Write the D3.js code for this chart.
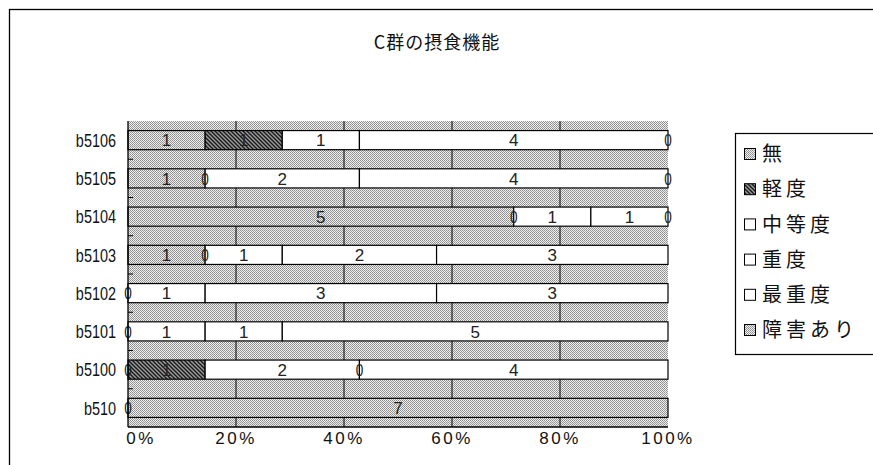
<!DOCTYPE html>
<html>
<head>
<meta charset="utf-8">
<script src="https://cdn.jsdelivr.net/npm/d3@7/dist/d3.min.js"></script>
<style>
  html, body { margin: 0; padding: 0; background: #fff; }
  svg { display: block; }
</style>
</head>
<body>
<svg id="chart" width="873" height="465"></svg>
<script>
// Categories (top to bottom) and one value array per severity series
const categories = ["b5106", "b5105", "b5104", "b5103", "b5102", "b5101", "b5100", "b510"];
const seriesNames = ["無", "軽度", "中等度", "重度", "最重度", "障害あり"];
const mu       = [1, 1, 5, 1, 0, 0, 0, 0];
const keido    = [1, 0, 0, 0, 0, 0, 1, null];
const chutoudo = [1, 2, 1, 1, 1, 1, 2, null];
const judo     = [4, 4, 1, 2, 3, 1, 0, null];
const saijudo  = [0, 0, 0, 3, 3, 5, 4, null];
const shougai  = [null, null, null, null, null, null, null, 7];
const tickLabels = ["0%", "20%", "40%", "60%", "80%", "100%"];
const title = "C群の摂食機能";

const seriesValues = [mu, keido, chutoudo, judo, saijudo, shougai];
const fills = ["url(#dots)", "url(#hatch)", "#fff", "#fff", "#fff", "url(#dots)"];

const rows = categories.map((c, i) => {
  const r = { cat: c };
  seriesNames.forEach((s, k) => { r[s] = seriesValues[k][i]; });
  return r;
});

const svg = d3.select("#chart");
const W = 873, H = 465;
const plot = { left: 128, right: 668, top: 121, bottom: 427 };

// Fill patterns: dithered light gray and dark diagonal hatch
const defs = svg.append("defs");
const dots = defs.append("pattern").attr("id", "dots")
  .attr("patternUnits", "userSpaceOnUse").attr("width", 2).attr("height", 2);
dots.append("rect").attr("width", 2).attr("height", 2).attr("fill", "#efefef");
dots.append("rect").attr("x", 0).attr("y", 0).attr("width", 1).attr("height", 1).attr("fill", "#8c8c8c");
dots.append("rect").attr("x", 1).attr("y", 1).attr("width", 1).attr("height", 1).attr("fill", "#9c9c9c");

const hatch = defs.append("pattern").attr("id", "hatch")
  .attr("patternUnits", "userSpaceOnUse").attr("width", 4).attr("height", 4);
hatch.append("rect").attr("width", 4).attr("height", 4).attr("fill", "#9a9a9a");
hatch.append("path").attr("d", "M-1,-1 L5,5 M3,-1 L5,1 M-1,3 L1,5")
  .attr("stroke", "#1a1a1a").attr("stroke-width", 1.4);

// Outer chart border
svg.append("rect").attr("x", 9.5).attr("y", 9.5).attr("width", W).attr("height", H)
  .attr("fill", "none").attr("stroke", "#000").attr("stroke-width", 1.3);

// Title
svg.append("text").attr("x", 437).attr("y", 49).attr("text-anchor", "middle")
  .attr("font-family", "'Noto Sans CJK JP', sans-serif").attr("font-size", 18)
  .attr("letter-spacing", 1)
  .attr("fill", "#111").text(title);

const x = d3.scaleLinear().domain([0, 1]).range([plot.left, plot.right]);
const y = d3.scaleBand().domain(categories).range([plot.top, plot.bottom]).paddingInner(0.5).paddingOuter(0.25);
const yOuter = d3.scaleBand().domain(categories).range([plot.top, plot.bottom]);

// Plot area background
svg.append("rect").attr("x", plot.left).attr("y", plot.top)
  .attr("width", plot.right - plot.left).attr("height", plot.bottom - plot.top)
  .attr("fill", "url(#dots)");

// Vertical gridlines
svg.append("g").selectAll("line").data([0.2, 0.4, 0.6, 0.8]).join("line")
  .attr("x1", d => x(d)).attr("x2", d => x(d))
  .attr("y1", plot.top).attr("y2", plot.bottom)
  .attr("stroke", "#000").attr("stroke-width", 1);

// Stack as 100% shares
const stack = d3.stack().keys(seriesNames)
  .value((d, k) => d[k] == null ? 0 : d[k])
  .offset(d3.stackOffsetExpand);
const layers = stack(rows);

const gBars = svg.append("g");
layers.forEach((layer, k) => {
  gBars.selectAll(null).data(layer.filter(d => d.data[seriesNames[k]] > 0)).join("rect")
    .attr("x", d => x(d[0]))
    .attr("y", d => y(d.data.cat))
    .attr("width", d => x(d[1]) - x(d[0]))
    .attr("height", y.bandwidth())
    .attr("fill", fills[k])
    .attr("stroke", "#000").attr("stroke-width", 1.2);
});

// Data labels (values, including zeros; blanks skipped).
// Zero labels that fall on the exact same spot print only once.
const labelItems = [];
const seen = new Set();
layers.forEach((layer, k) => {
  layer.forEach(d => {
    const v = d.data[seriesNames[k]];
    if (v == null) return;
    const pos = (d[0] + d[1]) / 2;
    const key = d.data.cat + "|" + pos.toFixed(4) + "|" + v;
    if (seen.has(key)) return;
    seen.add(key);
    labelItems.push({ cat: d.data.cat, pos, v });
  });
});
svg.append("g")
  .attr("font-family", "'Liberation Sans', sans-serif").attr("font-size", 17)
  .attr("fill", "#222").attr("text-anchor", "middle")
  .selectAll("text").data(labelItems).join("text")
  .attr("transform", d => `translate(${x(d.pos)},${y(d.cat) + y.bandwidth() / 2}) scale(${d.v === 0 ? 0.8 : 1},1)`)
  .attr("dy", "0.36em")
  .text(d => d.v);

// Axes lines
svg.append("line").attr("x1", plot.left).attr("x2", plot.left)
  .attr("y1", plot.top).attr("y2", plot.bottom).attr("stroke", "#000").attr("stroke-width", 1.3);
svg.append("line").attr("x1", plot.left).attr("x2", plot.right)
  .attr("y1", plot.bottom).attr("y2", plot.bottom).attr("stroke", "#000").attr("stroke-width", 1.3);

// Category tick marks at band boundaries
svg.append("g").selectAll("line").data(categories.slice(1)).join("line")
  .attr("x1", plot.left).attr("x2", plot.left + 5)
  .attr("y1", d => yOuter(d)).attr("y2", d => yOuter(d))
  .attr("stroke", "#000");

// Category labels (horizontally condensed)
svg.append("g").selectAll("text").data(categories).join("text")
  .attr("transform", d => `translate(116,${y(d) + y.bandwidth() / 2}) scale(0.76,1)`)
  .attr("dy", "0.36em")
  .attr("text-anchor", "end")
  .attr("font-family", "'Liberation Sans', sans-serif").attr("font-size", 19)
  .attr("fill", "#111").text(d => d);

// Percent tick labels
svg.append("g").selectAll("text").data(tickLabels).join("text")
  .attr("x", (d, i) => x(i / 5) + (i === 0 ? 13 : 0)).attr("y", 444)
  .attr("text-anchor", "middle")
  .attr("font-family", "'Liberation Sans', sans-serif").attr("font-size", 17)
  .attr("letter-spacing", 2.5)
  .attr("fill", "#111").text(d => d);

// Legend
const lg = svg.append("g");
lg.append("rect").attr("x", 735.5).attr("y", 133.5).attr("width", 160).attr("height", 221)
  .attr("fill", "#fff").attr("stroke", "#000").attr("stroke-width", 1.2);
seriesNames.forEach((s, k) => {
  const cy = 154 + k * 35.2;
  lg.append("rect").attr("x", 744.5).attr("y", cy - 5.5).attr("width", 11).attr("height", 11)
    .attr("fill", fills[k]).attr("stroke", "#000").attr("stroke-width", 1);
  lg.append("text").attr("x", 762).attr("y", cy).attr("dy", "0.36em")
    .attr("font-family", "'Noto Sans CJK JP', sans-serif").attr("font-size", 20)
    .attr("letter-spacing", 4)
    .attr("fill", "#111").text(s);
});
</script>
</body>
</html>
